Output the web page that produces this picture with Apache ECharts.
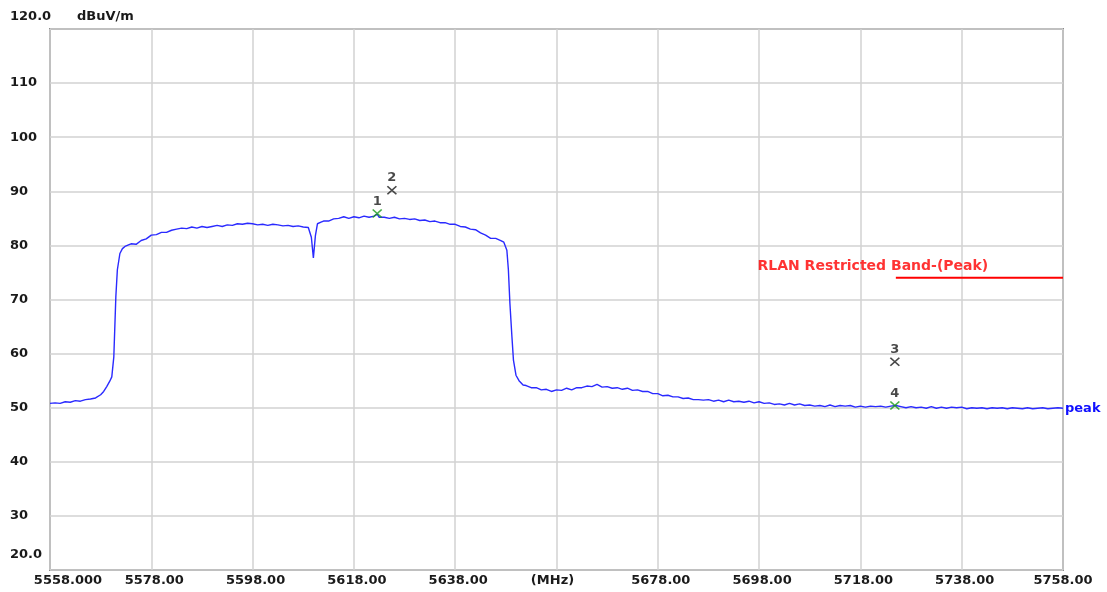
<!DOCTYPE html>
<html>
<head>
<meta charset="utf-8">
<script src="https://cdn.jsdelivr.net/npm/echarts@6/dist/echarts.min.js"></script>
<style>
  html, body { margin: 0; padding: 0; background: #ffffff; }
  #chart { width: 1107px; height: 592px; }
</style>
</head>
<body>
<div id="chart"></div>
<script>
// Radiated emission sweep, 5558–5758 MHz, peak detector (dBuV/m)
const traceData = [
  [5558, 50.8], [5559, 50.9], [5560, 50.8], [5561, 51.1], [5562, 51.0], [5563, 51.3],
  [5564, 51.2], [5565, 51.5], [5566, 51.6], [5567, 51.8], [5568, 52.4], [5568.6, 53.0],
  [5569.2, 53.9], [5569.8, 54.9], [5570.2, 55.7], [5570.6, 59.4], [5571.0, 70.5],
  [5571.3, 75.5], [5571.8, 78.5], [5572.3, 79.4], [5572.8, 79.8], [5573.5, 80.1],
  [5574, 80.3], [5575, 80.2], [5576, 80.9], [5577, 81.2], [5578, 81.9], [5579, 82.0],
  [5580, 82.4], [5581, 82.4], [5582, 82.8], [5583, 83.0], [5584, 83.2], [5585, 83.1],
  [5586, 83.4], [5587, 83.2], [5588, 83.5], [5589, 83.3], [5590, 83.5], [5591, 83.7],
  [5592, 83.5], [5593, 83.8], [5594, 83.7], [5595, 84.0], [5596, 83.9], [5597, 84.1],
  [5598, 84.0], [5599, 83.8], [5600, 83.9], [5601, 83.7], [5602, 83.9], [5603, 83.8],
  [5604, 83.6], [5605, 83.7], [5606, 83.5], [5607, 83.6], [5608, 83.4], [5609, 83.3],
  [5609.6, 81.5], [5610.0, 77.7], [5610.4, 81.8], [5610.8, 84.0], [5611.5, 84.3],
  [5612, 84.5], [5613, 84.5], [5614, 84.9], [5615, 85.0], [5616, 85.3], [5617, 85.0],
  [5618, 85.3], [5619, 85.1], [5620, 85.4], [5621, 85.2], [5622, 85.4], [5622.6, 85.8],
  [5623, 85.2], [5624, 85.2], [5625, 85.0], [5626, 85.2], [5627, 84.9], [5628, 85.0],
  [5629, 84.8], [5630, 84.9], [5631, 84.6], [5632, 84.7], [5633, 84.4], [5634, 84.5],
  [5635, 84.2], [5636, 84.2], [5637, 83.9], [5638, 83.9], [5639, 83.5], [5640, 83.4],
  [5641, 83.0], [5642, 82.9], [5643, 82.3], [5644, 81.9], [5645, 81.3], [5646, 81.3],
  [5647, 80.9], [5647.6, 80.6], [5648.2, 79.1], [5648.5, 75.5], [5648.8, 69.3],
  [5649.2, 63.1], [5649.5, 58.8], [5650.0, 56.0], [5650.6, 55.0], [5651.4, 54.2],
  [5652, 54.1], [5653, 53.7], [5654, 53.7], [5655, 53.3], [5656, 53.4], [5657, 53.0],
  [5658, 53.3], [5659, 53.2], [5660, 53.6], [5661, 53.3], [5662, 53.7], [5663, 53.7],
  [5664, 54.0], [5665, 53.9], [5666, 54.3], [5667, 53.8], [5668, 53.9], [5669, 53.6],
  [5670, 53.7], [5671, 53.4], [5672, 53.6], [5673, 53.2], [5674, 53.3], [5675, 53.0],
  [5676, 53.0], [5677, 52.6], [5678, 52.6], [5679, 52.2], [5680, 52.3], [5681, 52.0],
  [5682, 52.0], [5683, 51.7], [5684, 51.8], [5685, 51.5], [5686, 51.5], [5687, 51.4],
  [5688, 51.5], [5689, 51.2], [5690, 51.4], [5691, 51.1], [5692, 51.4], [5693, 51.1],
  [5694, 51.2], [5695, 51.0], [5696, 51.2], [5697, 50.9], [5698, 51.1], [5699, 50.8],
  [5700, 50.9], [5701, 50.6], [5702, 50.7], [5703, 50.5], [5704, 50.8], [5705, 50.5],
  [5706, 50.7], [5707, 50.4], [5708, 50.5], [5709, 50.3], [5710, 50.4], [5711, 50.2],
  [5712, 50.5], [5713, 50.2], [5714, 50.4], [5715, 50.3], [5716, 50.4], [5717, 50.1],
  [5718, 50.3], [5719, 50.1], [5720, 50.3], [5721, 50.2], [5722, 50.3], [5723, 50.1],
  [5724, 50.3], [5725, 50.4], [5726, 50.2], [5727, 50.0], [5728, 50.2], [5729, 50.0],
  [5730, 50.1], [5731, 49.9], [5732, 50.2], [5733, 49.9], [5734, 50.1], [5735, 49.9],
  [5736, 50.1], [5737, 50.0], [5738, 50.1], [5739, 49.8], [5740, 50.0], [5741, 49.9],
  [5742, 50.0], [5743, 49.8], [5744, 50.0], [5745, 49.9], [5746, 50.0], [5747, 49.8],
  [5748, 50.0], [5749, 49.9], [5750, 49.8], [5751, 50.0], [5752, 49.8], [5753, 49.9],
  [5754, 50.0], [5755, 49.8], [5756, 49.9], [5757, 50.0], [5758, 49.9]
];

// Restricted band limit (peak)
const limitName = 'RLAN Restricted Band-(Peak)';
const limitFreq = [5725, 5758];
const limitLevel = [74, 74];

// Markers
const markerIds = ['1', '2', '3', '4'];
const markerFreq = [5622.6, 5625.5, 5724.8, 5724.8];
const markerLevel = [85.9, 90.2, 58.5, 50.4];
const markerOnTrace = [true, false, false, true];

// Axis tick labels
const xTickLabels = ['5558.000', '5578.00', '5598.00', '5618.00', '5638.00', '(MHz)',
  '5678.00', '5698.00', '5718.00', '5738.00', '5758.00'];
const yTickLabels = ['20.0', '30', '40', '50', '60', '70', '80', '90', '100', '110', '120.0'];

const FONT = 'DejaVu Sans';
const TXT = '#1a1a1a';
const X_SYMBOL = 'path://M0,0L10,10M10,0L0,10';

const chart = echarts.init(document.getElementById('chart'), null, { renderer: 'canvas' });

function markerSeries(onTrace, color) {
  const data = [];
  markerIds.forEach((id, i) => {
    if (markerOnTrace[i] === onTrace) data.push([markerFreq[i], markerLevel[i], id]);
  });
  return {
    type: 'scatter',
    data: data,
    symbol: X_SYMBOL,
    symbolSize: [9, 8],
    itemStyle: { color: 'transparent', borderColor: color, borderWidth: 1.6 },
    label: {
      show: true, position: 'top', distance: 1,
      formatter: p => p.data[2],
      color: TXT, fontFamily: FONT, fontWeight: 'bold', fontSize: 13
    },
    z: 5,
    silent: true
  };
}

const option = {
  animation: false,
  backgroundColor: '#ffffff',
  title: {
    text: 'dBuV/m', left: 77, top: 10, padding: 0,
    textStyle: { fontFamily: FONT, fontWeight: 'bold', fontSize: 13, color: TXT }
  },
  grid: {
    left: 50, right: 44, top: 29, bottom: 22,
    show: true, borderColor: '#8c8c8c', borderWidth: 2, backgroundColor: '#ffffff'
  },
  xAxis: {
    type: 'value', min: 5558, max: 5758, interval: 20,
    axisLine: { show: false }, axisTick: { show: false },
    splitLine: { show: true, lineStyle: { color: '#d2d2d2', width: 1.5 } },
    axisLabel: {
      margin: 4,
      formatter: v => {
        const i = Math.round((v - 5558) / 20);
        const t = xTickLabels[i];
        if (i === 0) return '{first|' + t + '}';
        if (i === xTickLabels.length - 1) return '{last|' + t + '}';
        if (t === '(MHz)') return '{unit|' + t + '}';
        return '{n|' + t + '}';
      },
      rich: {
        first: { fontFamily: FONT, fontWeight: 'bold', fontSize: 13, color: TXT, padding: [0, 0, 0, 36] },
        last: { fontFamily: FONT, fontWeight: 'bold', fontSize: 13, color: TXT },
        unit: { fontFamily: FONT, fontWeight: 'bold', fontSize: 13, color: TXT, padding: [0, 8, 0, 0] },
        n: { fontFamily: FONT, fontWeight: 'bold', fontSize: 13, color: TXT, padding: [0, 0, 0, 6] }
      }
    }
  },
  yAxis: {
    type: 'value', min: 20, max: 120, interval: 10,
    axisLine: { show: false }, axisTick: { show: false },
    splitLine: { show: true, lineStyle: { color: '#d2d2d2', width: 1.5 } },
    axisLabel: {
      margin: 40, align: 'left',
      formatter: v => {
        const i = Math.round((v - 20) / 10);
        const t = yTickLabels[i];
        if (i === 0) return '{lo|' + t + '}';
        if (i === yTickLabels.length - 1) return '{hi|' + t + '}';
        return '{n|' + t + '}';
      },
      rich: {
        lo: { fontFamily: FONT, fontWeight: 'bold', fontSize: 13, color: TXT, padding: [0, 0, 30, 0] },
        hi: { fontFamily: FONT, fontWeight: 'bold', fontSize: 13, color: TXT, padding: [0, 0, 24, 0] },
        n: { fontFamily: FONT, fontWeight: 'bold', fontSize: 13, color: TXT }
      }
    }
  },
  series: [
    {
      name: 'peak',
      type: 'line',
      data: traceData,
      showSymbol: false,
      symbol: 'none',
      lineStyle: { color: '#2a2aff', width: 1.4 },
      endLabel: {
        show: true, formatter: 'peak', distance: 2,
        color: '#1010ff', fontFamily: FONT, fontWeight: 'bold', fontSize: 13
      },
      z: 3,
      silent: true
    },
    {
      name: limitName,
      type: 'line',
      data: limitFreq.map((f, i) => [f, limitLevel[i]]),
      showSymbol: false,
      symbol: 'none',
      lineStyle: { color: '#ff0000', width: 2 },
      z: 4,
      silent: true
    },
    {
      // caption anchored at the start of the limit line
      name: limitName + ' label',
      type: 'scatter',
      data: [[limitFreq[0], limitLevel[0]]],
      symbol: 'circle',
      symbolSize: 2,
      itemStyle: { color: 'transparent' },
      label: {
        show: true, position: 'top', distance: 4, offset: [-23, 0],
        formatter: limitName,
        color: '#ff0000', fontFamily: FONT, fontWeight: 'bold', fontSize: 14
      },
      z: 4,
      silent: true
    },
    markerSeries(true, '#1a9a1a'),
    markerSeries(false, '#1a1a1a')
  ]
};

chart.setOption(option);
</script>
</body>
</html>
